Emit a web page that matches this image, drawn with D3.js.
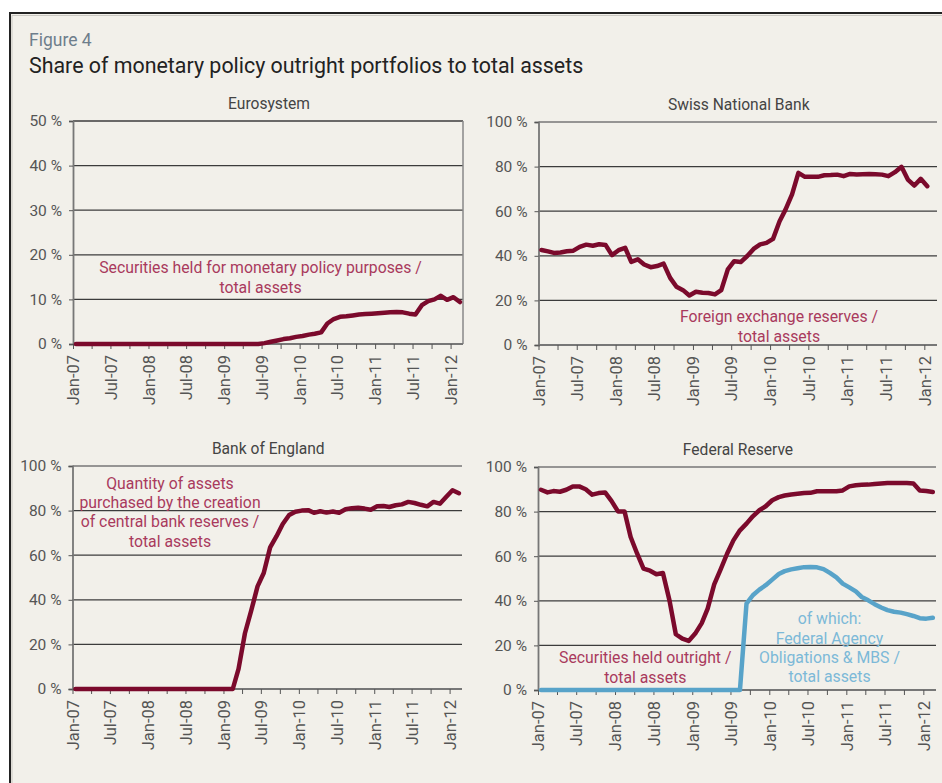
<!DOCTYPE html>
<html>
  <head>
    <meta charset="utf-8" />
    <title>Share of monetary policy outright portfolios to total assets</title>
    <script src="https://d3js.org/d3.v7.min.js"></script>
    <style>
      body { margin: 0; background: #ffffff; }
      svg { display: block; font-family: Roboto, "Noto Sans", sans-serif; }
    </style>
  </head>
  <body>
    <svg id="chart"></svg>
    <script>
      // monthly observations, first value = Jan-07
      var euroValues = [
        0, 0, 0, 0, 0, 0, 0, 0, 0, 0, 0, 0,
        0, 0, 0, 0, 0, 0, 0, 0, 0, 0, 0, 0,
        0, 0, 0, 0, 0, 0, 0.2, 0.5, 0.8, 1.1, 1.3, 1.6,
        1.8, 2.1, 2.3, 2.6, 4.6, 5.6, 6.1, 6.2, 6.4, 6.6, 6.7, 6.8,
        6.9, 7.0, 7.1, 7.2, 7.1, 6.8, 6.6, 8.7, 9.6, 10.0, 10.8, 9.9,
        10.5, 9.4
      ];
      var snbValues = [
        42.6, 42.0, 41.3, 41.5, 42.0, 42.3, 44.0, 45.0, 44.5, 45.2, 44.8, 40.3,
        42.5, 43.6, 37.3, 38.4, 36.1, 34.9, 35.4, 36.5, 30.1, 26.1, 24.6, 22.2,
        23.9, 23.4, 23.3, 22.7, 24.6, 33.9, 37.6, 37.2, 39.9, 43.1, 45.1, 45.8,
        47.6, 55.5, 60.7, 67.5, 77.2, 75.4, 75.5, 75.4, 76.1, 76.2, 76.4, 75.7,
        76.7, 76.5, 76.6, 76.7, 76.6, 76.4, 75.7, 77.5, 79.9, 74.2, 71.5, 74.5,
        71.2
      ];
      var boeValues = [
        0, 0, 0, 0, 0, 0, 0, 0, 0, 0, 0, 0,
        0, 0, 0, 0, 0, 0, 0, 0, 0, 0, 0, 0,
        0, 0, 9, 25, 35, 46, 52, 63.5, 68.5, 74, 78, 79.5,
        80, 80.2, 79, 79.7, 79.1, 79.6, 79, 80.6, 81.1, 81.3, 80.9, 80.4,
        81.9, 82.1, 81.6, 82.4, 82.8, 83.9, 83.4, 82.6, 81.9, 83.9, 83.1, 86.1,
        89.1, 87.8
      ];
      var fedValues = [
        89.8, 88.6, 89.2, 88.9, 89.8, 91.3, 91.3, 90.0, 87.6, 88.3, 88.6, 84.8,
        80.1, 80.1, 68.6, 61.1, 54.4, 53.5, 51.9, 52.5, 40.2, 25.0, 23.0, 22.0,
        25.3, 30.0, 36.5, 47.4, 54.0, 61.1, 67.1, 71.6, 74.6, 77.9, 80.6, 82.4,
        85.1, 86.5, 87.2, 87.7, 88.0, 88.3, 88.4, 89.1, 89.1, 89.1, 89.1, 89.5,
        91.3, 91.8, 92.0, 92.1, 92.4, 92.6, 92.8, 92.8, 92.8, 92.8, 92.6, 89.5,
        89.2, 88.8
      ];
      var fedAgencyValues = [
        0, 0, 0, 0, 0, 0, 0, 0, 0, 0, 0, 0,
        0, 0, 0, 0, 0, 0, 0, 0, 0, 0, 0, 0,
        0, 0, 0, 0, 0, 0, 0, 0, 38.7, 42.5, 45.0, 47.0,
        49.5, 52.0, 53.3, 54.1, 54.6, 55.1, 55.2, 55.0, 54.2, 52.5, 50.5, 47.7,
        46.0, 44.2, 41.7, 40.2, 38.5, 37.0, 35.8, 35.1, 34.7, 34.0, 33.2, 32.2,
        32.0, 32.4
      ];

      var panelTitles = ["Eurosystem", "Swiss National Bank", "Bank of England", "Federal Reserve"];
      var yMax = [50, 100, 100, 100];
      var yStep = [10, 20, 20, 20];

      var euroNote = ["Securities held for monetary policy purposes /", "total assets"];
      var snbNote = ["Foreign exchange reserves /", "total assets"];
      var boeNote = ["Quantity of assets", "purchased by the creation", "of central bank reserves /", "total assets"];
      var fedNote = ["Securities held outright /", "total assets"];
      var fedAgencyNote = ["of which:", "Federal Agency", "Obligations & MBS /", "total assets"];

      var startMonth = new Date(2007, 0, 1);
      var endMonth = new Date(2012, 2, 1);

      var red = "#7b0a2c";
      var redText = "#a93a5d";
      var blue = "#58a3c9";
      var blueText = "#7cb9d8";

      function monthDates(values) {
        return values.map(function (v, i) {
          return { date: new Date(2007, i, 15), value: v };
        });
      }

      var W = 942, H = 783;
      var svg = d3.select("#chart").attr("width", W).attr("height", H);

      // frame
      svg.append("rect")
        .attr("x", 10).attr("y", 13)
        .attr("width", 960).attr("height", 800)
        .attr("fill", "#f2f0ea")
        .attr("stroke", "#222").attr("stroke-width", 2);
      svg.append("path")
        .attr("d", "M12," + 960 + "V15.5H960")
        .attr("fill", "none").attr("stroke", "#c9c7c1").attr("stroke-width", 1);

      svg.append("text")
        .attr("x", 29).attr("y", 46)
        .attr("font-size", 17.5).attr("fill", "#6e7e8c")
        .text("Figure 4");
      svg.append("text")
        .attr("x", 29).attr("y", 72.5)
        .attr("font-size", 21.4).attr("fill", "#222")
        .text("Share of monetary policy outright portfolios to total assets");

      var panels = [
        { left: 73, right: 463, top: 121, bottom: 344, box: true,
          series: [{ values: euroValues, color: red }],
          notes: [{ lines: euroNote, x: 260.5, y: 267.7, color: redText }] },
        { left: 538.5, right: 937, top: 122, bottom: 345, box: false,
          series: [{ values: snbValues, color: red }],
          notes: [{ lines: snbNote, x: 779, y: 316.7, color: redText }] },
        { left: 72.5, right: 462, top: 466, bottom: 689, box: false,
          series: [{ values: boeValues, color: red }],
          notes: [{ lines: boeNote, x: 170, y: 483.3, color: redText }] },
        { left: 538, right: 936, top: 467, bottom: 690, box: false,
          series: [{ values: fedValues, color: red }, { values: fedAgencyValues, color: blue }],
          notes: [{ lines: fedNote, x: 645.3, y: 657.7, color: redText },
                  { lines: fedAgencyNote, x: 829.5, y: 618.7, color: blueText }] }
      ];

      panels.forEach(function (p, pi) {
        var x = d3.scaleTime().domain([startMonth, endMonth]).range([p.left, p.right]);
        var y = d3.scaleLinear().domain([0, yMax[pi]]).range([p.bottom, p.top]);
        var g = svg.append("g");

        // panel title
        g.append("text")
          .attr("x", (p.left + p.right) / 2 + 1).attr("y", p.top - 12)
          .attr("text-anchor", "middle")
          .attr("font-size", 15.6).attr("fill", "#444")
          .text(panelTitles[pi]);

        // gridlines
        var yTicks = d3.range(0, yMax[pi] + 0.001, yStep[pi]);
        g.selectAll(".grid")
          .data(yTicks.filter(function (t) { return t > 0; }))
          .enter().append("line")
          .attr("x1", p.left).attr("x2", p.right)
          .attr("y1", function (d) { return y(d); })
          .attr("y2", function (d) { return y(d); })
          .attr("stroke", function (d) { return d === yMax[pi] && !p.box ? "#777" : "#3c3c3c"; })
          .attr("stroke-width", 1.3);

        if (p.box) {
          g.append("line")
            .attr("x1", p.right).attr("x2", p.right)
            .attr("y1", p.top).attr("y2", p.bottom)
            .attr("stroke", "#888").attr("stroke-width", 1.5);
        }

        // y axis
        var yAxis = g.append("g")
          .attr("transform", "translate(" + p.left + ",0)")
          .call(d3.axisLeft(y).tickValues(yTicks).tickSize(4).tickPadding(7)
            .tickFormat(function (d) { return d + " %"; }));
        yAxis.select(".domain").attr("stroke", "#777").attr("stroke-width", 1.8);
        yAxis.selectAll(".tick line").attr("stroke", "#555");
        yAxis.selectAll("text")
          .attr("font-family", "Roboto, sans-serif")
          .attr("font-size", 15.5).attr("fill", "#555");

        // x axis
        var xAxis = g.append("g")
          .attr("transform", "translate(0," + p.bottom + ")")
          .call(d3.axisBottom(x).ticks(d3.timeMonth.every(3)).tickSize(5)
            .tickFormat(function (d) {
              return d.getMonth() % 6 === 0 ? d3.timeFormat("%b-%y")(d) : "";
            }));
        xAxis.select(".domain").attr("stroke", "#777").attr("stroke-width", 1.8)
          .attr("d", "M" + p.left + ",0H" + p.right);
        xAxis.selectAll(".tick line").attr("stroke", "#555");
        xAxis.selectAll("text")
          .attr("font-family", "Roboto, sans-serif")
          .attr("font-size", 16.5).attr("fill", "#555")
          .attr("text-anchor", "end")
          .attr("transform", "rotate(-90)")
          .attr("x", -11).attr("y", 0).attr("dy", "0.35em");

        // series
        var line = d3.line()
          .x(function (d) { return x(d.date); })
          .y(function (d) { return y(d.value); });
        p.series.forEach(function (s) {
          g.append("path")
            .datum(monthDates(s.values))
            .attr("d", line)
            .attr("fill", "none")
            .attr("stroke", s.color)
            .attr("stroke-width", 4.5)
            .attr("stroke-linejoin", "round")
            .attr("stroke-linecap", "round");
        });

        // notes
        p.notes.forEach(function (n) {
          var t = g.append("text")
            .attr("text-anchor", "middle")
            .attr("font-size", 15.8)
            .attr("fill", n.color);
          n.lines.forEach(function (l, i) {
            t.append("tspan")
              .attr("x", n.x)
              .attr("y", n.y + i * 19.3)
              .attr("dy", "0.35em")
              .text(l);
          });
        });
      });
    </script>
  </body>
</html>
